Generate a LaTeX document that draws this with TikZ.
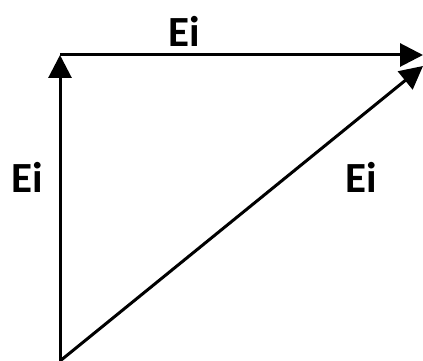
\documentclass[tikz,border=0pt]{standalone}
\usepackage{fontspec}
\setmainfont{Carlito}
\usetikzlibrary{arrows.meta}
\begin{document}
\begin{tikzpicture}[x=1pt,y=1pt,
  vec/.style={line width=3pt,-{Triangle[length=23pt,width=23pt]}},
  lab/.style={font=\fontsize{43}{48}\selectfont\bfseries,inner sep=0pt}]
\useasboundingbox (0,0) rectangle (423,361);
\coordinate (O) at (60,0);
\coordinate (A) at (60,306);
\coordinate (B) at (423,306);
\coordinate (C) at (423,295);
\draw[vec] (O) -- (A);
\draw[vec] (A) -- (B);
\draw[vec] (O) -- (C);
\node[lab] (t) at (184,330) {Ei};
\node[lab] (l) at (27,184) {Ei};
\node[lab] (r) at (361,184) {Ei};
\end{tikzpicture}
\end{document}
